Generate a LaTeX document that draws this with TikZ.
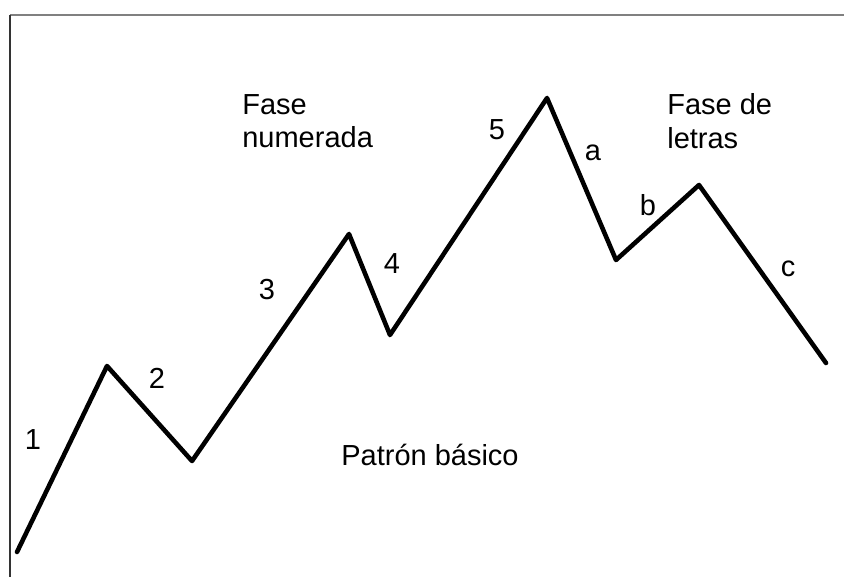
\documentclass[tikz,border=0pt]{standalone}
\usepackage{fontspec}
\setmainfont{Liberation Sans}
\usetikzlibrary{positioning}
\definecolor{ewFrame}{RGB}{128,128,128}

\begin{document}
\begin{tikzpicture}[x=0.02cm,y=-0.02cm,
    lbl/.style={font=\fontsize{16.5}{19}\selectfont,inner sep=0pt},
    wave/.style={line width=2.6pt,line join=round,line cap=round}]
    \useasboundingbox (0,0) rectangle (844,577);
    % Frame
    \draw[ewFrame,line width=1.1pt] (10,15) -- (844,15);
    \draw[black!80,line width=0.6pt] (10,15) -- (10,577);
    % Wave points
    \coordinate (w0) at (17,552);
    \coordinate (w1) at (107,366);
    \coordinate (w2) at (192,461);
    \coordinate (w3) at (349,234);
    \coordinate (w4) at (390,335);
    \coordinate (w5) at (547,98);
    \coordinate (w6) at (616,260);
    \coordinate (w7) at (699,185);
    \coordinate (w8) at (826,363);
    \draw[wave] (w0) -- (w1) -- (w2) -- (w3) -- (w4) -- (w5) -- (w6) -- (w7) -- (w8);
    % Wave labels
    \node[lbl] at (33,440) (l1) {1};
    \node[lbl] at (157,378) (l2) {2};
    \node[lbl] at (267,290) (l3) {3};
    \node[lbl] at (392,264) (l4) {4};
    \node[lbl] at (497,130) (l5) {5};
    \node[lbl] at (593,153) (la) {a};
    \node[lbl] at (648,205) (lb) {b};
    \node[lbl] at (788,269) (lc) {c};
    % Phase texts
    \node[lbl,align=left,anchor=west] at (242,121) (numPhase) {Fase\\numerada};
    \node[lbl,align=left,anchor=west] at (667,121) (letPhase) {Fase de\\letras};
    \node[lbl] at (430,455) (basic) {Patrón básico};
\end{tikzpicture}
\end{document}
